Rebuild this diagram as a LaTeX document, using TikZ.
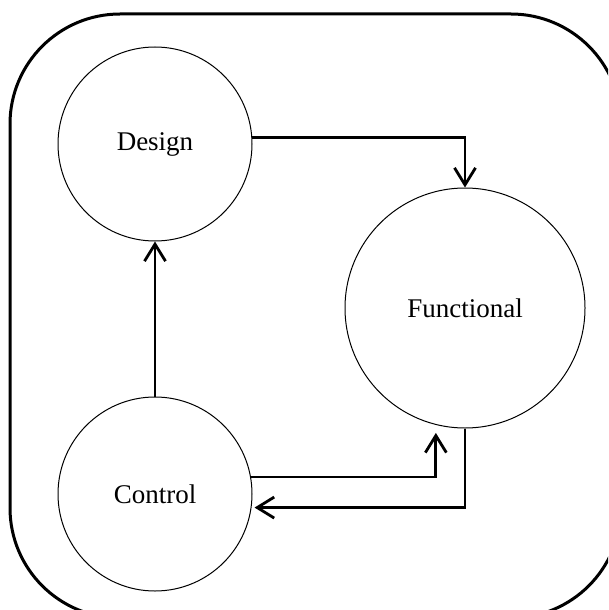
\documentclass[tikz,border=0pt]{standalone}
\usepackage{fontspec}
\setmainfont{Liberation Serif}
\usetikzlibrary{arrows.meta}
\begin{document}
\begin{tikzpicture}[x=1pt,y=-1pt,
  proc/.style={circle,draw,line width=1pt,inner sep=0pt,font=\fontsize{27}{30}\selectfont},
  arr/.style={line width=2.8pt,-{Straight Barb[length=17pt,width=21pt,line width=2.8pt]}}]
\useasboundingbox (0,0) rectangle (608,610);
\begin{scope}
\clip (0,0) rectangle (608,610);
\draw[line width=3pt,rounded corners=110pt] (10,14) rectangle (621,618);
\node[proc,minimum size=194pt] (design) at (155,144) {Design};
\node[proc,minimum size=240pt] (func) at (465,308) {Functional};
\node[proc,minimum size=194pt] (ctrl) at (155,494) {Control};
\draw[arr] (ctrl.north) -- (design.south);
\draw[arr] (design.4) -| (func.north);
\draw[arr,shorten >=8pt] (ctrl.10) -| (func.256);
\draw[arr,shorten >=3pt] (func.south) |- (ctrl.-8.3);
\end{scope}
\end{tikzpicture}
\end{document}
